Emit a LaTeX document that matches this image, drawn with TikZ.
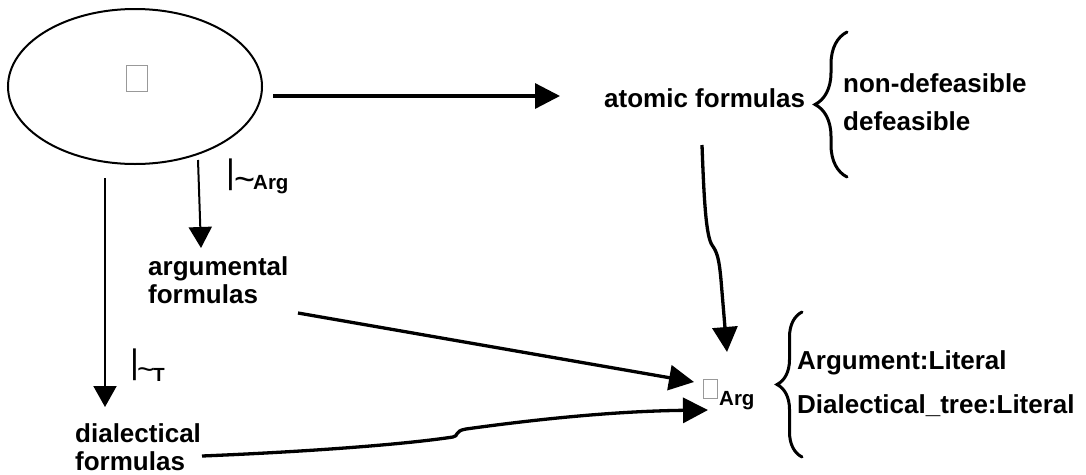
\documentclass[tikz,border=0pt]{standalone}
\usepackage{fontspec}
\setmainfont{Liberation Sans}
\usetikzlibrary{arrows.meta,decorations.pathreplacing,shapes.geometric}
\tikzset{
  lbl/.style={inner sep=0pt, anchor=base west, font=\fontsize{26}{28}\selectfont\bfseries},
  sublbl/.style={inner sep=0pt, anchor=base west, font=\fontsize{20.5}{22}\selectfont\bfseries},
  glyph/.style={inner sep=0pt, anchor=base west},
  tofu/.style={draw=gray!80, line width=0.8pt, inner sep=0pt},
  thick arrow/.style={line width=3.3pt, -{Triangle[length=25pt,width=25pt]}},
  thin arrow/.style={line width=2pt, -{Triangle[length=21pt,width=23pt]}},
  curly/.style={line width=3pt, decorate, line cap=round}
}
\newcommand{\tildeglyph}{\symbol{126}}
\begin{document}
\begin{tikzpicture}[x=1pt,y=-1pt]
\useasboundingbox (0,0) rectangle (1086,474);
% ellipse
\node[draw, line width=2pt, ellipse, minimum width=254pt, minimum height=155pt, inner sep=0pt] (U) at (135,86.5) {};
\node[tofu, minimum width=21pt, minimum height=26pt] (utofu) at (136.5,78) {};
% atomic formulas
\node[lbl] (atomic) at (604,107) {atomic formulas};
\node[lbl] (nondef) at (843,92) {non-defeasible};
\node[lbl] (def) at (843,130) {defeasible};
\draw[curly, decoration={brace, amplitude=32pt}] (847,177) -- (847,32);
% argumental
\node[lbl] (argA) at (148,275) {argumental};
\node[lbl] (argB) at (148,303) {formulas};
% dialectical
\node[lbl] (dialA) at (75,442) {dialectical};
\node[lbl] (dialB) at (75,470) {formulas};
% target
\node[tofu, minimum width=14pt, minimum height=19pt] (atofu) at (710,388.5) {};
\node[sublbl] (arg) at (719,405) {Arg};
\node[lbl] (argL) at (797,369) {Argument:Literal};
\node[lbl] (dtL) at (797,413) {Dialectical\_tree:Literal};
\draw[curly, decoration={brace, amplitude=25pt}] (802,457) -- (802,312);
% turnstile labels
\node[glyph, font=\fontsize{34}{34}\selectfont] (tsBar1) at (226,183) {|};
\node[glyph, font=\fontsize{36}{36}\selectfont] (tsTil1) at (234,191) {\tildeglyph};
\node[sublbl] (tsArg) at (253,189) {Arg};
\node[glyph, font=\fontsize{34}{34}\selectfont] (tsBar2) at (130,373) {|};
\node[glyph, font=\fontsize{30}{30}\selectfont] (tsTil2) at (137,379) {\tildeglyph};
\node[sublbl, font=\fontsize{19}{20}\selectfont\bfseries] (tsT) at (153,381) {T};
% connector end points
\coordinate (uE) at (273,96);
\coordinate (atomW) at (560,96);
\coordinate (uS1) at (198,160);
\coordinate (argN) at (201,248);
\coordinate (uS2) at (105,178);
\coordinate (dialN) at (105,407);
\coordinate (atomS) at (702,145);
\coordinate (argTop) at (727,352);
\coordinate (argFE) at (298,313);
\coordinate (argIn1) at (694,382);
\coordinate (dialE) at (202,456);
\coordinate (argIn2) at (708,410);
% connectors
\draw[thick arrow] (uE) -- (atomW);
\draw[thin arrow] (uS1) -- (argN);
\draw[thin arrow] (uS2) -- (dialN);
\draw[thick arrow] (atomS) .. controls (704,200) and (706,236) .. (712,245)
  .. controls (717,252) and (719,258) .. (721,280) -- (argTop);
\draw[thick arrow] (argFE) -- (argIn1);
\draw[thick arrow] (dialE) .. controls (300,452) and (400,445) .. (453,437)
  .. controls (459,436) and (454,431) .. (466,429) .. controls (560,416) and (630,411) .. (argIn2);
\end{tikzpicture}
\end{document}
